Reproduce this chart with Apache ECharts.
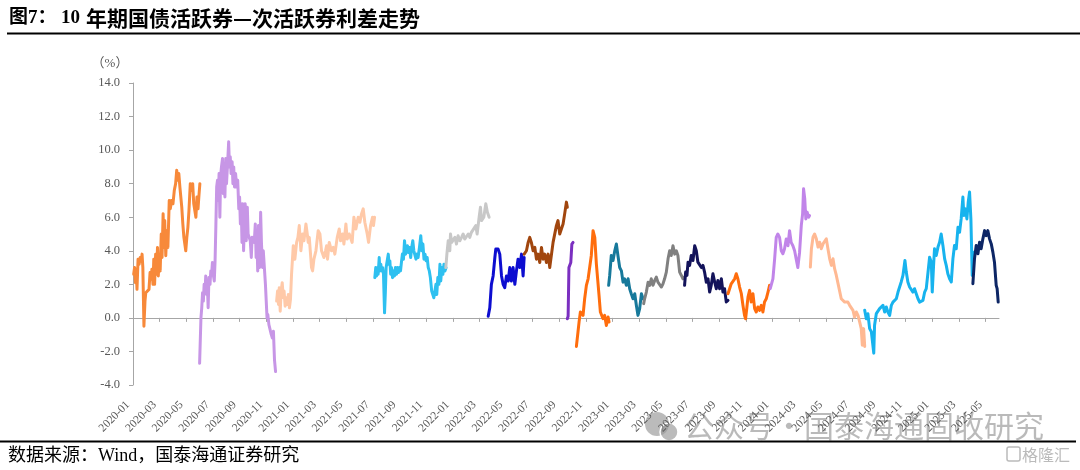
<!DOCTYPE html>
<html>
<head>
<meta charset="utf-8">
<script src="https://cdn.jsdelivr.net/npm/echarts@6/dist/echarts.min.js"></script>
<style>
html,body{margin:0;padding:0;background:#fff;}
#chart{width:1080px;height:470px;}
</style>
</head>
<body>
<div id="chart"></div>
<script>
// x = months elapsed since 2020-01 (daily series sampled), y = spread in %
const xTickLabels = ['2020-01','2020-03','2020-05','2020-07','2020-09','2020-11','2021-01','2021-03','2021-05','2021-07','2021-09','2021-11','2022-01','2022-03','2022-05','2022-07','2022-09','2022-11','2023-01','2023-03','2023-05','2023-07','2023-09','2023-11','2024-01','2024-03','2024-05','2024-07','2024-09','2024-11','2025-01','2025-03','2025-05'];
const yTickValues = [-4, -2, 0, 2, 4, 6, 8, 10, 12, 14];

const seg01 = [[0.05,2.6],[0.12,3.0],[0.18,2.1],[0.24,2.9],[0.3,1.7],[0.38,3.5],[0.46,3.2],[0.54,3.6],[0.62,3.4],[0.68,3.8],[0.74,3.0],[0.82,-0.5],[0.9,1.0],[0.96,1.5],[1.1,1.5],[1.2,1.7],[1.28,2.7],[1.36,2.3],[1.42,2.9],[1.5,2.0],[1.56,3.5],[1.62,2.0],[1.7,3.8],[1.76,2.6],[1.84,4.2],[1.9,2.5],[1.96,3.5],[2.04,2.8],[2.12,5.0],[2.18,3.6],[2.26,6.2],[2.32,4.2],[2.38,5.8],[2.46,3.7],[2.54,5.2],[2.62,4.2],[2.72,7.0],[2.8,6.5],[2.9,7.0],[3.0,6.8],[3.1,7.6],[3.2,8.0],[3.28,8.8],[3.36,8.2],[3.44,8.6],[3.52,7.8],[3.6,7.9],[3.66,6.6],[3.74,5.6],[3.82,4.8],[3.96,4.0],[4.04,4.8],[4.12,5.4],[4.2,6.4],[4.3,8.0],[4.4,7.6],[4.48,8.0],[4.56,6.8],[4.64,6.4],[4.72,6.0],[4.8,7.2],[4.88,6.5],[4.96,7.4],[5.02,8.0]];
const seg02 = [[5.0,-2.7],[5.1,0.0],[5.16,0.6],[5.22,1.5],[5.28,1.0],[5.34,2.0],[5.4,1.5],[5.46,2.5],[5.52,1.4],[5.58,2.0],[5.64,0.6],[5.7,2.4],[5.78,2.0],[5.84,2.8],[5.9,2.6],[5.96,3.3],[6.04,2.5],[6.1,2.2],[6.16,3.4],[6.22,5.5],[6.28,7.8],[6.34,8.2],[6.4,7.0],[6.46,8.6],[6.52,6.0],[6.58,8.5],[6.64,9.0],[6.72,9.5],[6.78,7.4],[6.84,9.2],[6.9,7.2],[6.96,9.5],[7.02,8.0],[7.1,9.2],[7.18,10.5],[7.24,9.0],[7.3,9.6],[7.36,8.6],[7.44,9.3],[7.5,8.0],[7.56,9.0],[7.62,7.8],[7.7,8.6],[7.78,7.8],[7.86,8.2],[7.94,6.5],[8.0,7.2],[8.06,5.6],[8.12,6.8],[8.18,4.5],[8.24,6.8],[8.3,4.0],[8.36,5.5],[8.42,6.8],[8.5,4.6],[8.58,6.6],[8.64,5.0],[8.72,4.8],[8.8,4.6],[8.88,3.6],[8.94,4.8],[9.02,4.8],[9.1,4.5],[9.18,5.6],[9.24,3.6],[9.3,4.8],[9.36,2.8],[9.42,5.5],[9.5,3.0],[9.58,6.3],[9.64,4.5],[9.72,3.0],[9.78,4.0],[9.86,3.0],[9.94,2.0],[10.0,1.0],[10.06,0.0],[10.12,0.2],[10.2,-0.4],[10.3,-0.5],[10.38,-1.0],[10.46,-1.2],[10.54,-0.8],[10.62,-2.5],[10.7,-3.2]];
const seg03 = [[10.78,1.0],[10.85,1.6],[10.92,0.8],[10.98,1.8],[11.05,0.4],[11.12,1.6],[11.2,2.1],[11.28,1.2],[11.34,1.6],[11.42,0.7],[11.5,1.2],[11.58,0.8],[11.66,1.4],[11.74,0.6],[11.82,1.1],[11.9,2.6],[12.03,4.3],[12.15,3.5],[12.28,4.5],[12.38,4.8],[12.48,5.5],[12.6,4.0],[12.73,5.0],[12.83,4.6],[12.98,5.6],[13.08,5.0],[13.15,4.5],[13.23,4.8],[13.4,3.0],[13.48,2.8],[13.58,3.5],[13.73,4.0],[13.9,5.2],[14.03,5.0],[14.15,4.0],[14.33,3.6],[14.45,4.0],[14.53,4.3],[14.6,3.5],[14.73,4.5],[14.9,4.0],[15.03,4.2],[15.15,3.8],[15.33,4.8],[15.48,5.3],[15.58,4.6],[15.73,5.0],[15.83,4.4],[15.98,5.6],[16.08,4.7],[16.23,5.0],[16.33,5.0],[16.45,4.5],[16.58,6.0],[16.73,5.3],[16.9,6.0],[17.03,5.7],[17.15,6.2],[17.28,6.5],[17.4,5.7],[17.58,5.0],[17.68,4.5],[17.83,5.5],[17.98,6.0],[18.05,5.5],[18.13,6.0]];
const seg04 = [[18.15,2.4],[18.22,3.0],[18.28,2.5],[18.34,3.0],[18.4,2.6],[18.48,3.6],[18.53,2.8],[18.6,3.2],[18.66,2.8],[18.74,3.0],[18.8,2.6],[18.88,0.3],[18.94,1.5],[19.0,3.0],[19.08,3.4],[19.16,3.8],[19.22,3.2],[19.28,3.4],[19.34,2.6],[19.4,3.0],[19.48,2.4],[19.55,2.8],[19.62,2.5],[19.7,3.0],[19.78,2.6],[19.85,3.0],[19.92,2.7],[20.0,3.0],[20.08,2.8],[20.16,3.4],[20.22,3.8],[20.3,3.5],[20.38,4.6],[20.46,3.8],[20.53,4.0],[20.6,4.3],[20.68,3.9],[20.76,4.2],[20.84,3.6],[20.92,4.2],[21.0,4.6],[21.08,4.0],[21.16,4.1],[21.24,3.5],[21.32,3.8],[21.4,3.6],[21.5,4.2],[21.6,4.9],[21.68,4.0],[21.76,4.4],[21.84,3.5],[21.92,3.8],[22.0,3.4],[22.08,3.6],[22.16,3.0],[22.24,2.8],[22.32,2.4],[22.42,1.6],[22.5,1.5],[22.58,1.2],[22.66,1.3],[22.74,2.0],[22.8,1.4],[22.88,2.4],[22.96,2.0],[23.04,3.2],[23.1,2.2],[23.18,3.0],[23.26,2.6],[23.34,3.2],[23.42,2.8],[23.5,3.0]];
const seg05 = [[23.48,3.0],[23.56,3.8],[23.66,4.6],[23.78,4.0],[23.83,5.0],[23.92,4.5],[24.03,4.6],[24.16,4.8],[24.28,4.4],[24.4,4.9],[24.53,4.6],[24.66,4.8],[24.78,5.0],[24.9,4.7],[24.98,4.8],[25.16,5.0],[25.28,4.8],[25.4,5.1],[25.53,5.0],[25.73,5.5],[25.83,5.0],[25.98,6.0],[26.08,6.6],[26.16,5.8],[26.33,6.0],[26.48,6.8],[26.6,6.3],[26.73,6.0]];
const seg06 = [[26.66,0.1],[26.78,0.6],[26.9,2.0],[27.03,2.5],[27.16,3.6],[27.23,4.1],[27.4,4.1],[27.53,3.8],[27.66,2.5],[27.78,2.0],[27.9,1.8],[28.03,2.5],[28.16,2.2],[28.28,3.0],[28.4,2.2],[28.53,3.0],[28.66,2.0],[28.78,2.8],[28.9,3.5],[29.03,3.0],[29.16,3.8],[29.28,2.5],[29.36,3.6]];
const seg07 = [[29.36,3.8],[29.53,4.0],[29.66,4.5],[29.78,4.8],[29.9,4.5],[30.03,4.0],[30.16,4.2],[30.28,3.5],[30.4,3.8],[30.53,3.3],[30.66,4.2],[30.78,3.5],[30.9,3.8],[31.03,3.3],[31.16,3.8],[31.28,3.0],[31.4,3.1],[31.53,4.5],[31.66,4.6],[31.78,5.5],[31.9,5.8],[32.03,5.0],[32.16,4.9],[32.28,5.6],[32.4,6.2],[32.53,6.9],[32.6,6.6]];
const seg08 = [[32.6,-0.05],[32.66,0.1],[32.72,3.0],[32.8,3.0],[32.86,3.3],[32.94,4.4],[33.03,4.5]];
const seg09 = [[33.28,-1.7],[33.4,-0.84],[33.48,-0.25],[33.58,0.35],[33.73,0.45],[33.78,0.15],[33.9,1.14],[34.03,1.94],[34.16,2.33],[34.28,2.43],[34.4,3.72],[34.53,5.2],[34.66,4.8],[34.78,3.2],[34.9,3.13],[34.98,1.34],[35.08,0.35],[35.2,0.45],[35.28,-0.05],[35.4,0.15],[35.53,-0.45],[35.66,0.05],[35.73,-0.25]];
const seg10 = [[35.7,1.94],[35.78,2.53],[35.9,3.72],[36.03,3.42],[36.16,4.0],[36.28,4.4],[36.4,3.7],[36.53,3.0],[36.66,2.8],[36.78,2.13],[36.9,2.33],[37.03,1.94],[37.16,2.33],[37.28,1.74],[37.4,1.44],[37.53,1.14],[37.66,1.44],[37.78,0.75],[37.9,0.15],[38.03,0.55],[38.16,1.44],[38.28,1.14]];
const seg11 = [[38.33,0.85],[38.4,1.14],[38.53,1.54],[38.66,2.13],[38.78,1.94],[38.9,2.33],[39.03,1.94],[39.16,2.23],[39.28,2.43],[39.4,2.13],[39.53,2.03],[39.66,1.84],[39.78,2.03],[39.9,2.33],[40.03,2.73],[40.16,3.52],[40.28,4.0],[40.4,3.72],[40.53,4.3],[40.66,3.8],[40.78,4.0],[40.9,3.72],[41.03,2.73],[41.16,2.53],[41.28,2.33],[41.4,2.43]];
const seg12 = [[41.4,1.94],[41.48,2.73],[41.58,2.53],[41.66,3.32],[41.78,3.13],[41.9,3.72],[42.03,3.42],[42.16,4.3],[42.28,4.0],[42.4,3.32],[42.53,3.42],[42.66,3.0],[42.78,3.13],[42.9,2.73],[43.03,2.13],[43.16,2.33],[43.28,1.54],[43.4,1.94],[43.53,2.63],[43.66,2.13],[43.78,1.74],[43.9,2.23],[44.03,1.74],[44.16,2.33],[44.28,1.54],[44.4,1.74],[44.53,0.95],[44.66,1.04]];
const seg13 = [[44.66,1.44],[44.78,1.74],[44.9,2.03],[45.03,1.94],[45.16,2.33],[45.28,2.63],[45.4,2.33],[45.53,1.84],[45.66,1.44],[45.78,0.75],[45.9,0.15],[45.98,-0.05],[46.08,0.65],[46.16,1.24],[46.28,1.64],[46.4,0.95],[46.53,1.44],[46.66,0.55],[46.78,0.35],[46.9,0.65],[47.03,0.45],[47.16,0.75],[47.28,0.35],[47.4,0.95],[47.53,1.14],[47.66,1.54],[47.78,1.94]];
const seg14 = [[47.83,1.74],[47.9,1.84],[48.03,2.33],[48.16,3.52],[48.28,4.8],[48.4,5.0],[48.53,4.8],[48.66,4.0],[48.78,3.82],[48.9,4.1],[49.03,4.7],[49.16,4.3],[49.28,5.2],[49.4,4.5],[49.53,4.3],[49.66,4.0],[49.78,3.5],[49.9,3.0],[50.03,3.9],[50.16,5.5],[50.26,6.2],[50.33,7.7],[50.42,7.1],[50.5,5.9],[50.6,6.3],[50.72,6.0],[50.78,6.1]];
const seg15 = [[50.84,3.03],[50.92,4.12],[51.04,4.81],[51.16,5.0],[51.29,4.71],[51.42,4.22],[51.54,4.51],[51.66,4.12],[51.79,4.41],[51.92,4.51],[52.04,4.71],[52.16,4.12],[52.29,3.52],[52.42,3.13],[52.54,3.52],[52.66,2.93],[52.79,2.53],[52.92,2.04],[53.04,2.14],[53.16,1.14],[53.29,1.04],[53.42,0.94],[53.54,1.04],[53.66,0.94],[53.79,0.75],[53.92,0.85],[54.04,0.45],[54.16,0.05],[54.29,0.35],[54.42,0.15],[54.54,-0.24],[54.66,-0.64],[54.74,-1.63],[54.84,-0.64],[54.92,-1.7]];
const seg16 = [[54.92,0.45],[55.04,-0.05],[55.16,0.25],[55.29,-0.64],[55.42,-0.83],[55.6,-2.1],[55.66,-0.44],[55.79,0.25],[55.92,0.15],[56.04,0.55],[56.16,0.45],[56.29,0.75],[56.42,0.35],[56.54,0.65],[56.66,0.35],[56.79,0.15],[56.92,0.75],[57.04,0.94],[57.16,0.85],[57.29,1.14],[57.42,1.54],[57.54,1.64],[57.66,2.14],[57.79,2.53],[57.94,3.42],[58.04,2.73],[58.16,2.14],[58.29,1.84],[58.42,1.94],[58.54,1.54],[58.66,1.74],[58.79,1.44],[58.92,1.14],[59.04,0.94],[59.16,0.85],[59.29,1.04],[59.42,1.54],[59.54,1.74],[59.66,2.63],[59.79,3.62],[59.92,3.32],[59.99,1.54],[60.09,3.13],[60.16,4.12],[60.29,3.72],[60.42,4.22],[60.54,4.51],[60.66,5.0],[60.79,4.32],[60.92,3.52],[61.04,3.13],[61.16,2.63],[61.29,2.33],[61.42,2.14],[61.54,3.52],[61.66,4.32],[61.79,4.12],[61.92,5.4],[62.04,5.1],[62.16,5.9],[62.29,7.2],[62.36,6.1],[62.49,6.5],[62.59,5.9],[62.69,6.9],[62.79,7.5],[62.89,5.9],[62.99,2.53],[63.04,3.92]];
const seg17 = [[63.04,2.04],[63.16,3.52],[63.29,4.32],[63.42,3.82],[63.54,4.51],[63.66,4.12],[63.79,4.71],[63.92,5.2],[64.04,4.9],[64.16,5.2],[64.29,4.71],[64.42,4.41],[64.54,3.92],[64.66,3.32],[64.79,1.94],[64.86,1.74],[64.94,0.94]];

const segments = [seg01,seg02,seg03,seg04,seg05,seg06,seg07,seg08,seg09,seg10,seg11,seg12,seg13,seg14,seg15,seg16,seg17];
const segColors = ['#F7893A','#C796E6','#FFC9A8','#2EC0F0','#C8C8C8','#0D0DD0','#A1460E','#7B2FC0','#FF6D0D','#17799B','#808080','#13135A','#FF6D0D','#C185E9','#FFB993','#17B3EE','#0D2665'];

const tickVals = xTickLabels.map((_, i) => i * 2);
const axisGray = '#A6A6A6';
const labelGray = '#595959';

const chart = echarts.init(document.getElementById('chart'), null, {renderer: 'canvas'});
const option = {
  animation: false,
  backgroundColor: '#ffffff',
  grid: {left: 133, right: 81, top: 83, bottom: 85, containLabel: false},
  xAxis: [
    {
      type: 'value', min: 0, max: 65, interval: 2,
      axisLine: {show: true, onZero: true, lineStyle: {color: axisGray, width: 1}},
      axisTick: {show: true, customValues: tickVals, length: 4, inside: false, lineStyle: {color: axisGray}},
      axisLabel: {show: false},
      splitLine: {show: false}
    },
    {
      type: 'value', min: 0, max: 65, interval: 2, position: 'bottom',
      axisLine: {show: false, onZero: false},
      axisTick: {show: false},
      axisLabel: {
        show: true, customValues: tickVals, rotate: 45, margin: 13, padding: [0, 7, 0, 0],
        color: labelGray, fontFamily: 'Liberation Serif', fontSize: 11.5,
        formatter: v => { const i = Math.round(v / 2); return (Math.abs(v - i * 2) < 1e-6 && xTickLabels[i]) ? xTickLabels[i] : ''; }
      },
      splitLine: {show: false}
    }
  ],
  yAxis: {
    type: 'value', min: yTickValues[0], max: yTickValues[yTickValues.length - 1], interval: 2,
    axisLine: {show: true, onZero: false, lineStyle: {color: axisGray, width: 1}},
    axisTick: {show: true, length: 4, lineStyle: {color: axisGray}},
    axisLabel: {color: labelGray, fontFamily: 'Liberation Serif', fontSize: 12.5, margin: 13, formatter: v => v.toFixed(1)},
    splitLine: {show: false}
  },
  series: segments.map((d, i) => ({
    type: 'line', xAxisIndex: 0, yAxisIndex: 0, data: d,
    showSymbol: false, symbol: 'none', smooth: false, silent: true,
    lineStyle: {color: segColors[i], width: 3, join: 'round', cap: 'round'},
    z: 2 + i
  })),
  graphic: [
    {type: 'text', left: 9, top: 9, style: {text: '图7：', font: 'bold 19px "Liberation Serif","Noto Sans CJK SC"', fill: '#000'}},
    {type: 'text', left: 61, top: 9, style: {text: '10', font: 'bold 19px "Liberation Serif","Noto Sans CJK SC"', fill: '#000'}},
    {type: 'text', left: 86, top: 8, style: {text: '年期国债活跃券—次活跃券利差走势', font: 'bold 21px "Noto Sans CJK SC"', fill: '#000'}},
    {type: 'rect', shape: {x: 7, y: 32.5, width: 1073, height: 2}, style: {fill: '#000'}},
    {type: 'text', style: {x: 110, y: 64, text: '（%）', font: '13px "Liberation Serif","Noto Sans CJK SC"', fill: labelGray, textAlign: 'center', textVerticalAlign: 'middle'}},
    {type: 'circle', shape: {cx: 657, cy: 424, r: 12}, style: {fill: 'rgba(150,150,150,0.65)'}},
    {type: 'circle', shape: {cx: 669, cy: 432, r: 9}, style: {fill: 'rgba(150,150,150,0.65)', stroke: '#fff', lineWidth: 1.5}},
    {type: 'text', style: {x: 684, y: 426, text: '公众号·国泰海通固收研究', font: '30px "Noto Sans CJK SC"', fill: 'rgba(130,130,130,0.55)', textVerticalAlign: 'middle'}},
    {type: 'rect', shape: {x: 0, y: 440.5, width: 1076, height: 2}, style: {fill: '#000'}},
    {type: 'text', style: {x: 8, y: 456, text: '数据来源：Wind，国泰海通证券研究', font: '18px "Liberation Serif","Noto Sans CJK SC"', fill: '#000', textVerticalAlign: 'middle'}},
    {type: 'rect', shape: {x: 1007, y: 447, width: 13, height: 14, r: 2}, style: {fill: 'none', stroke: '#BBBBBB', lineWidth: 1.5}},
    {type: 'text', style: {x: 1022, y: 455, text: '格隆汇', font: '16px "Noto Sans CJK SC"', fill: '#BBBBBB', textVerticalAlign: 'middle'}}
  ]
};
chart.setOption(option);
</script>
</body>
</html>
